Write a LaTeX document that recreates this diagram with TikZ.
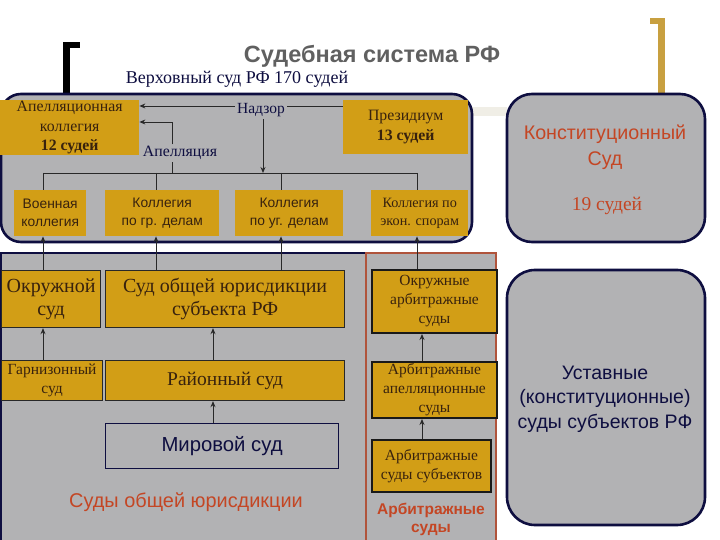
\documentclass[tikz,border=0pt]{standalone}
\usepackage{fontspec}
\setmainfont{Liberation Serif}
\newfontfamily\sansf{Liberation Sans}
\usetikzlibrary{arrows.meta}
\definecolor{panelgray}{RGB}{178,178,180}
\definecolor{gold}{RGB}{210,158,22}
\definecolor{navy}{RGB}{14,14,64}
\definecolor{btxt}{RGB}{56,34,14}
\definecolor{redt}{RGB}{196,70,36}
\definecolor{redborder}{RGB}{176,84,60}
\definecolor{titlegray}{RGB}{96,96,96}
\definecolor{bracketgold}{RGB}{200,160,64}
\definecolor{linec}{RGB}{40,40,40}
\definecolor{faint}{RGB}{240,238,230}
\tikzset{
  gbox/.style={fill=gold, text=btxt, inner sep=0pt, align=center, anchor=north west},
  bbox/.style={gbox, draw=linec, line width=1.2pt},
  abox/.style={gbox, draw=black!90, line width=2pt},
  arr/.style={draw=linec, line width=0.9pt, -{Stealth[length=6pt,width=5pt]}},
  ln/.style={draw=linec, line width=0.9pt},
  lbl/.style={text=navy, inner sep=2pt},
  panel/.style={draw=navy, line width=2.6pt, fill=panelgray},
  fA/.style={font=\fontsize{15.8}{19.5}\selectfont},
  fS/.style={font=\sansf\fontsize{13.8}{18}\selectfont},
  fB/.style={font=\fontsize{20}{23}\selectfont},
  fC/.style={font=\fontsize{15.5}{19}\selectfont},
}
\begin{document}
\begin{tikzpicture}[x=1pt,y=-1pt]
\useasboundingbox (0,0) rectangle (720,540);
\clip (0,0) rectangle (720,540);
\fill[white] (0,0) rectangle (720,540);
% brackets
\fill[black] (63,42) rectangle (70,93);
\fill[black] (63,42) rectangle (80,48);
\fill[bracketgold] (658,18) rectangle (665,93);
\fill[bracketgold] (650,18) rectangle (665,24);
\fill[faint] (472,107) rectangle (507,116);
% title
\node[text=titlegray, font=\sansf\bfseries\fontsize{23.5}{27}\selectfont, anchor=base] (title) at (372,63) {Судебная система РФ};
\node[text=navy, font=\fontsize{18}{21}\selectfont, anchor=base, inner sep=0pt] (vs) at (237,84) {Верховный суд РФ 170 судей};
% panels
\draw[panel, rounded corners=20pt] (1,94) rectangle (472,242);
\draw[panel, rounded corners=25pt] (507,94) rectangle (705,242);
\draw[panel, rounded corners=28pt] (507,270) rectangle (705,525);
\draw[draw=navy, line width=1.2pt, fill=panelgray] (1,253) rectangle (366,548);
\draw[draw=redborder, line width=1.2pt, fill=panelgray] (366,253) rectangle (496,548);
% top panel boxes
\node[gbox, fA, minimum width=139pt, minimum height=55pt] (apell) at (0,100) {Апелляционная\\коллегия\\\textbf{12 судей}};
\node[gbox, fA, minimum width=125pt, minimum height=54pt] (prez) at (343,100) {Президиум\\\textbf{13 судей}};
\node[gbox, fS, minimum width=72pt, minimum height=46pt] (voen) at (14,190) {Военная\\коллегия};
\node[gbox, fS, minimum width=114pt, minimum height=46pt] (kgr) at (105,190) {Коллегия\\по гр. делам};
\node[gbox, fS, minimum width=108pt, minimum height=46pt] (kug) at (235,190) {Коллегия\\по уг. делам};
\node[gbox, font=\fontsize{14.2}{18}\selectfont, minimum width=97pt, minimum height=46pt] (kek) at (371,190) {Коллегия по\\экон. спорам};
% labels
\node[lbl, font=\fontsize{15.5}{18}\selectfont, anchor=base] (nadzor) at (261,114) {Надзор};
\node[lbl, font=\fontsize{15.8}{18}\selectfont, anchor=base] (apl) at (180,157) {Апелляция};
% general jurisdiction boxes
\node[bbox, fB, minimum width=99pt, minimum height=57pt] (okr) at (1,270) {Окружной\\суд};
\node[bbox, fB, minimum width=239pt, minimum height=57pt] (soj) at (105,270) {Суд общей юрисдикции\\субъекта РФ};
\node[bbox, font=\fontsize{15.5}{19}\selectfont, minimum width=101pt, minimum height=40pt] (garn) at (1,360) {Гарнизонный\\суд};
\node[bbox, font=\fontsize{19.5}{22}\selectfont, minimum width=239pt, minimum height=40pt] (rai) at (105,360) {Районный суд};
\node[gbox, fill=panelgray, draw=navy, line width=1.2pt, text=navy, font=\sansf\fontsize{20.3}{23}\selectfont, minimum width=233pt, minimum height=45pt] (mir) at (105,423) {Мировой суд};
\node[text=redt, font=\sansf\fontsize{19.9}{23}\selectfont] (sojl) at (186,502) {Суды общей юрисдикции};
% arbitration boxes
\node[abox, fC, minimum width=125pt, minimum height=63pt] (oab) at (371,269) {Окружные\\арбитражные\\суды};
\node[abox, fC, minimum width=125pt, minimum height=56pt] (aap) at (371,361) {Арбитражные\\апелляционные\\суды};
\node[abox, fC, minimum width=119pt, minimum height=52pt] (asub) at (371,439) {Арбитражные\\суды субъектов};
\node[text=redt, font=\sansf\bfseries\fontsize{15.5}{18}\selectfont, align=center] (arbl) at (431,519) {Арбитражные\\суды};
% right panels text
\node[text=redt, font=\sansf\fontsize{19.7}{26.5}\selectfont, align=center] (ks) at (605,147) {Конституционный\\Суд};
\node[text=redt, font=\fontsize{19.5}{22}\selectfont] (ks19) at (607,206) {19 судей};
\node[text=navy, font=\sansf\fontsize{19.5}{24.5}\selectfont, align=center] (ust) at (605,399) {Уставные\\(конституционные)\\суды субъектов РФ};
% coordinates
\coordinate (nz) at (263,106);
\coordinate (nz2) at (263,173);
\coordinate (c1) at (43,173);
\coordinate (c2) at (156,173);
\coordinate (c3) at (281,173);
\coordinate (c4) at (417,173);
\coordinate (ap1) at (172,173);
\coordinate (ap2) at (172,122);
\coordinate (c5) at (213,0);
\coordinate (c6) at (422,0);
% connectors in supreme court
\draw[ln] (prez.west |- nz) -- (nadzor.east |- nz);
\draw[arr] (nadzor.west |- nz) -- (apell.east |- nz);
\draw[arr] (nadzor.south -| nz2) -- (nz2);
\draw[ln] (c1) -- (c4);
\draw[ln] (ap1) -- (ap1 |- apl.south);
\draw[arr] (ap1 |- apl.north) -- (ap2) -- (apell.east |- ap2);
\draw[ln] (c1) -- (c1 |- voen.north);
\draw[ln] (c2) -- (c2 |- kgr.north);
\draw[ln] (c3) -- (c3 |- kug.north);
\draw[ln] (c4) -- (c4 |- kek.north);
% upward arrows
\draw[arr] (c1 |- okr.north) -- (c1 |- voen.south);
\draw[arr] (c2 |- soj.north) -- (c2 |- kgr.south);
\draw[arr] (c3 |- soj.north) -- (c3 |- kug.south);
\draw[arr] (c4 |- oab.north) -- (c4 |- kek.south);
\draw[arr] (c1 |- garn.north) -- (c1 |- okr.south);
\draw[arr] (c5 |- rai.north) -- (c5 |- soj.south);
\draw[arr] (c5 |- mir.north) -- (c5 |- rai.south);
\draw[arr] (c6 |- aap.north) -- (c6 |- oab.south);
\draw[arr] (c6 |- asub.north) -- (c6 |- aap.south);
\end{tikzpicture}
\end{document}
